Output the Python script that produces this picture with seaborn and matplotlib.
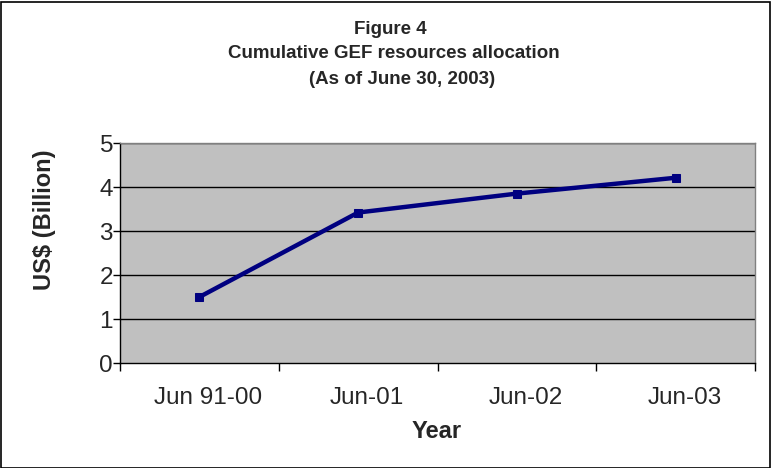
import matplotlib
matplotlib.use("Agg")
import matplotlib.pyplot as plt
import matplotlib.transforms as mtransforms
import seaborn as sns
import pandas as pd
from matplotlib.patches import Rectangle

categories = ["Jun 91-00", "Jun-01", "Jun-02", "Jun-03"]
values = [1.50, 3.42, 3.85, 4.21]
yticks = [0, 1, 2, 3, 4, 5]
title_lines = ["Figure 4", "Cumulative GEF resources allocation", "(As of June 30, 2003)"]

df = pd.DataFrame({"Year": categories, "Value": values})

sns.set_theme(style="white")
plt.rcParams["font.family"] = ["Liberation Sans", "DejaVu Sans"]

fig = plt.figure(figsize=(7.71, 4.68), dpi=100)
ax = fig.add_axes([120/771, 1-363/468, 635/771, 220/468])
ax.set_facecolor("#C0C0C0")

ax.set_xlim(-0.5, 3.5)
ax.set_ylim(0, 5)
for y in yticks[1:]:
    ax.axhline(y, color="black", lw=1.0, zorder=1)

sns.lineplot(data=df, x="Year", y="Value", ax=ax, color="#000080", lw=3.2,
             marker="s", markersize=6, markeredgecolor="#000080", sort=False, zorder=3)

ax.set_xticks(range(len(categories)))
ax.set_xticklabels(categories, fontsize=17.5)
ax.set_xticks([i - 0.5 for i in range(len(categories) + 1)], minor=True)
ax.tick_params(axis="x", which="major", length=0, pad=17)
ax.tick_params(axis="x", which="minor", length=6, width=1, color="black", direction="out", bottom=True)
shift = mtransforms.ScaledTranslation(9/100, 0, fig.dpi_scale_trans)
for lbl in ax.get_xticklabels():
    lbl.set_transform(lbl.get_transform() + shift)
ax.set_yticks(yticks)
ax.set_yticklabels([str(v) for v in yticks], fontsize=17.5)
ax.tick_params(axis="y", which="major", length=5, width=1, color="black", direction="out", left=True, pad=0)

for s in ["left", "bottom"]:
    ax.spines[s].set_color("black")
    ax.spines[s].set_linewidth(1.0)
for s in ["top", "right"]:
    ax.spines[s].set_color("#808080")
    ax.spines[s].set_linewidth(1.0)

ax.set_xlabel("Year", fontsize=17, fontweight="bold")
ax.xaxis.set_label_coords((437-120)/635, (363-432)/220)
ax.xaxis.label.set_va("center")
ax.set_ylabel("US$ (Billion)", fontsize=17, fontweight="bold")
ax.yaxis.set_label_coords((45-120)/635, (363-220)/220)
ax.yaxis.label.set_va("center")

title_y = [29, 54, 79]
title_x = [390, 394, 402]
for t, xx, yy in zip(title_lines, title_x, title_y):
    fig.text(xx/771, 1 - yy/468, t, ha="center", va="center",
             fontsize=13.5, fontweight="bold")

fig.patches.append(Rectangle((0.5/771, 0.5/468), 769/771, 466/468, transform=fig.transFigure,
                             fill=False, edgecolor="black", lw=1.2))

fig.savefig("out.png", dpi=100)
